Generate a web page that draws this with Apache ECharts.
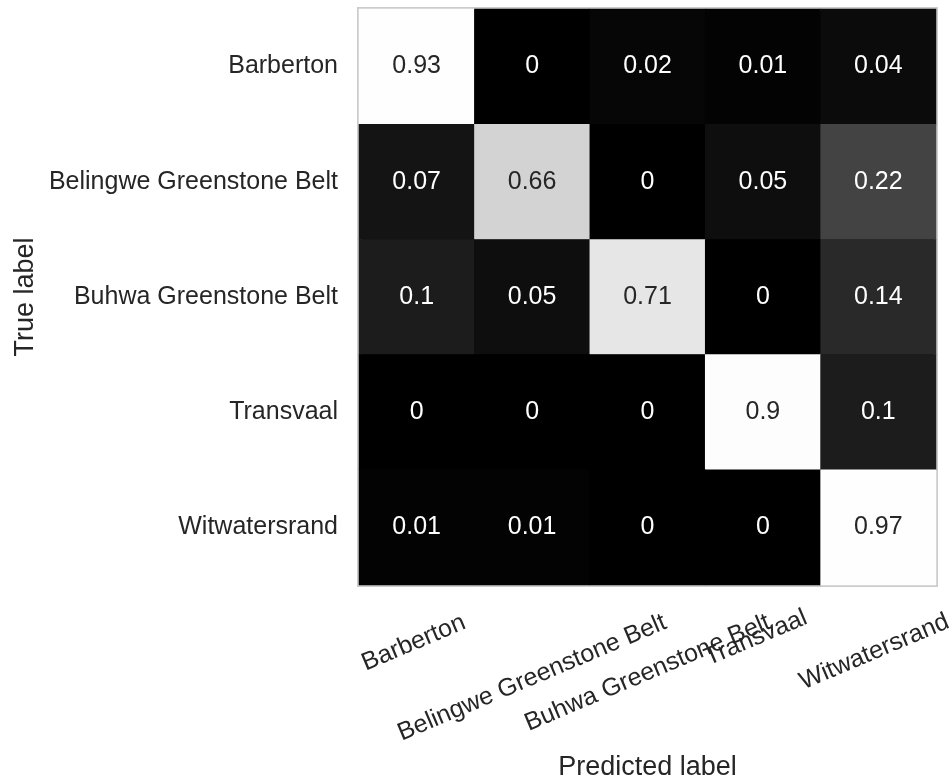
<!DOCTYPE html>
<html>
<head>
<meta charset="utf-8">
<script src="https://cdn.jsdelivr.net/npm/echarts@6/dist/echarts.min.js"></script>
<style>
  html, body { margin: 0; padding: 0; background: #ffffff; }
  #chart { width: 952px; height: 784px; }
</style>
</head>
<body>
<div id="chart"></div>
<script>
// Class names (shared by the true and predicted axes)
const classes = ['Barberton', 'Belingwe Greenstone Belt', 'Buhwa Greenstone Belt', 'Transvaal', 'Witwatersrand'];

// Normalised confusion matrix, one row per true class
const rowBarberton     = [0.93, 0,    0.02, 0.01, 0.04];
const rowBelingwe      = [0.07, 0.66, 0,    0.05, 0.22];
const rowBuhwa         = [0.1,  0.05, 0.71, 0,    0.14];
const rowTransvaal     = [0,    0,    0,    0.9,  0.1];
const rowWitwatersrand = [0.01, 0.01, 0,    0,    0.97];
const matrixRows = [rowBarberton, rowBelingwe, rowBuhwa, rowTransvaal, rowWitwatersrand];

// Layout of the rotated predicted-class labels: horizontal nudge from the tick
// and distance from the axis line down to the centre of each label (px).
const X_LABEL_NUDGE = [-3, 0, 0, -7, -4];
const X_LABEL_DEPTH = [58, 93, 88, 53, 67];

const FONT = '"Liberation Sans", Arial, Helvetica, sans-serif';
const INK = '#262626';
const ROT = 23;
const LABEL_MARGIN = 30;
const LABEL_LINE = 26;

const heatData = [];
matrixRows.forEach((row, yi) => {
  row.forEach((v, xi) => {
    heatData.push({
      value: [xi, yi, v],
      label: { color: v > 0.45 ? INK : '#ffffff' }
    });
  });
});

// Each label is anchored by its top-centre and rotated about that point;
// padding (in the label's own frame) then moves its centre to the wanted spot.
const rad = ROT * Math.PI / 180;
const xCategories = classes.map((name, i) => {
  const dx = X_LABEL_NUDGE[i];
  const dy = X_LABEL_DEPTH[i] - LABEL_MARGIN;
  const u = dx * Math.cos(rad) - dy * Math.sin(rad);   // along reading direction
  const w = dx * Math.sin(rad) + dy * Math.cos(rad);   // along local "down"
  const top = Math.max(0, w - LABEL_LINE / 2);
  const pad = [top, Math.max(0, -2 * u), 0, Math.max(0, 2 * u)];
  return {
    value: name,
    textStyle: { align: 'center', verticalAlign: 'top', lineHeight: LABEL_LINE, padding: pad }
  };
});

const chart = echarts.init(document.getElementById('chart'), null, { renderer: 'canvas' });
chart.setOption({
  backgroundColor: '#ffffff',
  animation: false,
  textStyle: { fontFamily: FONT },
  grid: {
    left: 359, top: 9, width: 577, height: 576,
    show: true, borderColor: '#cccccc', borderWidth: 4, backgroundColor: '#000000',
    containLabel: false, outerBoundsMode: 'none'
  },
  xAxis: {
    type: 'category',
    data: xCategories,
    name: 'Predicted label',
    nameLocation: 'middle',
    nameGap: 169,
    nameMoveOverlap: false,
    nameTextStyle: { fontSize: 27, color: INK, fontFamily: FONT },
    axisLine: { show: false },
    axisTick: { show: false },
    splitLine: { show: false },
    axisLabel: {
      interval: 0, rotate: ROT, margin: LABEL_MARGIN,
      fontSize: 25, color: INK, fontFamily: FONT, hideOverlap: false
    }
  },
  yAxis: {
    type: 'category',
    data: classes,
    inverse: true,
    name: 'True label',
    nameLocation: 'middle',
    nameGap: 320,
    nameMoveOverlap: false,
    nameTextStyle: { fontSize: 27, color: INK, fontFamily: FONT },
    axisLine: { show: false },
    axisTick: { show: false },
    splitLine: { show: false },
    axisLabel: { interval: 0, margin: 21, fontSize: 25, color: INK, fontFamily: FONT, hideOverlap: false }
  },
  visualMap: {
    type: 'continuous',
    show: false,
    min: 0,
    max: 1,
    dimension: 2,
    inRange: {
      color: ['#000000', '#1c1c1c', '#3c3c3c', '#5d5d5d', '#7c7c7c', '#9b9b9b',
              '#bababa', '#e4e4e4', '#f6f6f6', '#fdfdfd', '#ffffff']
    }
  },
  series: [{
    type: 'heatmap',
    data: heatData,
    label: {
      show: true,
      fontSize: 25,
      fontFamily: FONT,
      formatter: p => String(p.value[2])
    },
    itemStyle: { borderWidth: 0 },
    emphasis: { disabled: true }
  }]
});
</script>
</body>
</html>
